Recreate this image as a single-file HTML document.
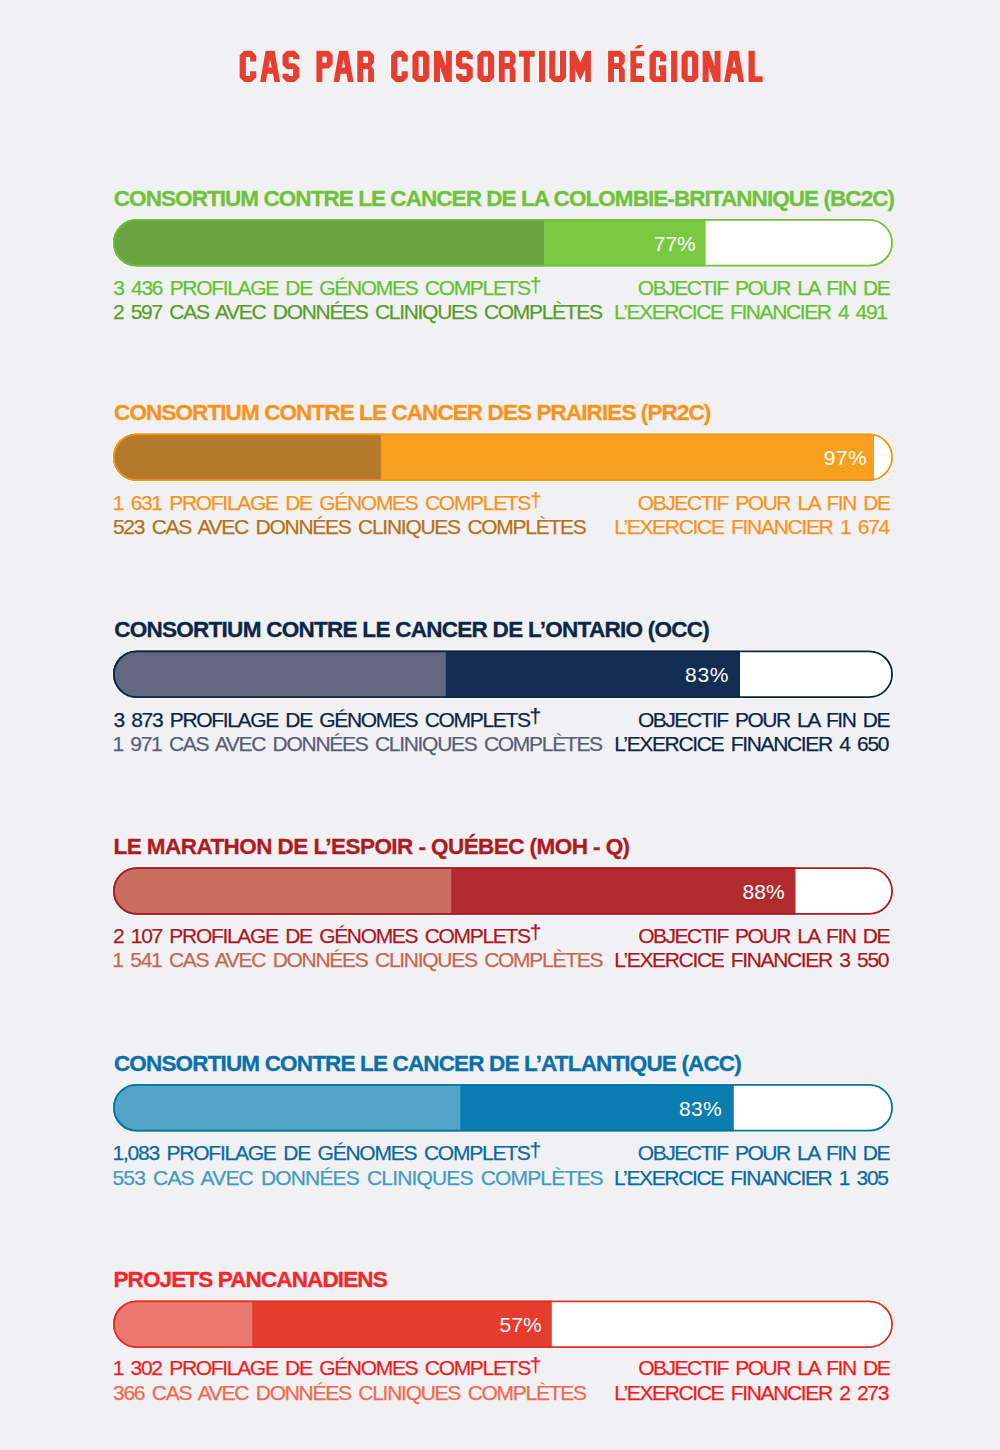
<!DOCTYPE html>
<html><head><meta charset="utf-8">
<style>
html,body{margin:0;padding:0;}
body{width:1000px;height:1450px;background:#f1f1f3;position:relative;overflow:hidden;font-family:"Liberation Sans",sans-serif;}
.t{position:absolute;white-space:nowrap;line-height:24px;text-shadow:0 0 1.5px rgba(255,255,255,0.9);}
.h{font-weight:bold;font-size:22.50px;letter-spacing:-0.50px;-webkit-text-stroke:0.35px currentColor;}
.b{font-size:21.00px;letter-spacing:-0.60px;word-spacing:3px;-webkit-text-stroke:0.25px currentColor;}
.r{text-align:right;}
.dg{position:relative;top:-3.2px;}
.p{font-size:21.00px;color:#fff;text-shadow:none;}
.title{position:absolute;white-space:nowrap;font-weight:bold;color:#e63c2f;transform-origin:0 0;}
svg{position:absolute;left:0;top:0;}
</style></head>
<body>
<svg id="tsvg" width="1000" height="100" viewBox="0 0 1000 100" style="position:absolute;left:0;top:0" role="img" aria-label="CAS PAR CONSORTIUM RÉGIONAL"><title>CAS PAR CONSORTIUM RÉGIONAL</title><g fill="#e63e30" fill-rule="evenodd" stroke="#fff" stroke-opacity="0.7" stroke-width="1.6" stroke-linejoin="miter" paint-order="stroke"><path transform="translate(239.60 50.85)" d="M4.45,0 H12.05 L16.65,4.6 V10.6 H10.5 V6.15 H6.3 V25.05 H10.5 V20.3 H16.65 V26.6 L12.05,31.2 H4.45 L0,26.75 V4.45 Z"/><path transform="translate(260.10 50.85)" d="M5.5,0 H14.5 L20,31.2 H14.3 L12.85,23 H7.15 L5.7,31.2 H0 Z M10,8.8 L11.55,16.7 H8.45 Z"/><path transform="translate(282.50 50.85)" d="M0,4.2 L4.2,0 H12.19 L16.78,4.46 V8.39 H10.62 V6.16 H6.29 V12.32 H12.19 L16.78,16.78 V26.74 L12.19,31.2 H4.2 L0,27.0 V22.81 H6.29 V25.1 H10.62 V18.48 H4.2 L0,14.16 Z"/><path transform="translate(316.40 50.85)" d="M0,0 H12.3 L16.3,4 V13.6 L12.3,17.6 H6.0 V31.2 H0 Z M6.0,5.9 H10.3 V11.9 H6.0 Z"/><path transform="translate(333.56 50.85)" d="M5.5,0 H14.5 L20,31.2 H14.3 L12.85,23 H7.15 L5.7,31.2 H0 Z M10,8.8 L11.55,16.7 H8.45 Z"/><path transform="translate(357.30 50.85)" d="M0,0 H12.5 L16.7,4.2 V11.6 L13.9,15.1 L16.7,18.6 V31.2 H10.8 V18.1 H5.9 V31.2 H0 Z M5.9,6.0 H10.8 V12.1 H5.9 Z"/><path transform="translate(391.10 50.85)" d="M4.45,0 H12.05 L16.65,4.6 V10.6 H10.5 V6.15 H6.3 V25.05 H10.5 V20.3 H16.65 V26.6 L12.05,31.2 H4.45 L0,26.75 V4.45 Z"/><path transform="translate(412.40 50.85)" d="M4.4,0 H12.4 L16.8,4.4 V26.8 L12.4,31.2 H4.4 L0,26.8 V4.4 Z M6.25,5.95 H10.55 V25.15 H6.25 Z"/><path transform="translate(433.90 50.85)" d="M0,0 H6.5 L12.0,15.0 V0 H17.95 V31.2 H11.3 L6.1,16.4 V31.2 H0 Z"/><path transform="translate(456.00 50.85)" d="M0,4.2 L4.2,0 H12.19 L16.78,4.46 V8.39 H10.62 V6.16 H6.29 V12.32 H12.19 L16.78,16.78 V26.74 L12.19,31.2 H4.2 L0,27.0 V22.81 H6.29 V25.1 H10.62 V18.48 H4.2 L0,14.16 Z"/><path transform="translate(477.36 50.85)" d="M4.4,0 H12.4 L16.8,4.4 V26.8 L12.4,31.2 H4.4 L0,26.8 V4.4 Z M6.25,5.95 H10.55 V25.15 H6.25 Z"/><path transform="translate(498.86 50.85)" d="M0,0 H12.5 L16.7,4.2 V11.6 L13.9,15.1 L16.7,18.6 V31.2 H10.8 V18.1 H5.9 V31.2 H0 Z M5.9,6.0 H10.8 V12.1 H5.9 Z"/><path transform="translate(518.84 50.85)" d="M0,0 H15.9 V5.9 H11.0 V31.2 H4.85 V5.9 H0 Z"/><path transform="translate(539.00 50.85)" d="M0,0 H6.1 V31.2 H0 Z"/><path transform="translate(549.20 50.85)" d="M0,0 H6.0 V25.2 H10.8 V0 H16.8 V26.8 L12.4,31.2 H4.4 L0,26.8 Z"/><path transform="translate(569.60 50.85)" d="M0,0 H5.4 L10.65,11.7 L15.9,0 H21.3 V31.2 H15.6 V18.9 L10.65,29.7 L5.7,18.9 V31.2 H0 Z"/><path transform="translate(608.10 50.85)" d="M0,0 H12.5 L16.7,4.2 V11.6 L13.9,15.1 L16.7,18.6 V31.2 H10.8 V18.1 H5.9 V31.2 H0 Z M5.9,6.0 H10.8 V12.1 H5.9 Z"/><path transform="translate(630.40 50.85)" d="M0,0 H13.9 V5.5 H5.7 V12.3 H11.7 V17.6 H5.7 V25.1 H13.9 V31.2 H0 Z M3.7,-2.4 L8.8,-2.4 L13.0,-5.9 L7.7,-5.9 Z"/><path transform="translate(649.50 50.85)" d="M4.4,0 H11.7 L16.7,4.4 V10.6 H10.6 V6.2 H6.4 V25.3 H10.6 V19.4 H9.2 V14.5 H16.7 V31.2 H3.5 L0,27.7 V4.4 Z"/><path transform="translate(671.10 50.85)" d="M0,0 H6.1 V31.2 H0 Z"/><path transform="translate(681.50 50.85)" d="M4.4,0 H12.4 L16.8,4.4 V26.8 L12.4,31.2 H4.4 L0,26.8 V4.4 Z M6.25,5.95 H10.55 V25.15 H6.25 Z"/><path transform="translate(702.60 50.85)" d="M0,0 H6.5 L12.0,15.0 V0 H17.95 V31.2 H11.3 L6.1,16.4 V31.2 H0 Z"/><path transform="translate(724.10 50.85)" d="M5.5,0 H14.5 L20,31.2 H14.3 L12.85,23 H7.15 L5.7,31.2 H0 Z M10,8.8 L11.55,16.7 H8.45 Z"/><path transform="translate(748.50 50.85)" d="M0,0 H6.3 V25.3 H14.2 V31.2 H0 Z"/></g></svg>
<svg width="1000" height="1450" viewBox="0 0 1000 1450"><defs>
<clipPath id="k0"><rect x="113.00" y="219.00" width="780.00" height="47.60" rx="23.80"/></clipPath>
<clipPath id="k1"><rect x="113.00" y="433.40" width="780.00" height="47.60" rx="23.80"/></clipPath>
<clipPath id="k2"><rect x="113.00" y="650.40" width="780.00" height="47.60" rx="23.80"/></clipPath>
<clipPath id="k3"><rect x="113.00" y="867.20" width="780.00" height="47.60" rx="23.80"/></clipPath>
<clipPath id="k4"><rect x="113.00" y="1084.00" width="780.00" height="47.60" rx="23.80"/></clipPath>
<clipPath id="k5"><rect x="113.00" y="1300.40" width="780.00" height="47.60" rx="23.80"/></clipPath>
</defs>
<rect x="112.50" y="218.50" width="781.00" height="48.60" rx="24.30" fill="none" stroke="#fff" stroke-opacity="0.85" stroke-width="1.2"/>
<g clip-path="url(#k0)">
<rect x="113.00" y="219.00" width="780.00" height="47.60" fill="#fff"/>
<rect x="113.00" y="219.00" width="592.60" height="47.60" fill="#7ac943"/>
<rect x="113.00" y="219.00" width="431.00" height="47.60" fill="#69a342"/>
</g>
<rect x="113.90" y="219.90" width="778.20" height="45.80" rx="22.90" fill="none" stroke="#6cc234" stroke-width="1.80"/>
<rect x="112.50" y="432.90" width="781.00" height="48.60" rx="24.30" fill="none" stroke="#fff" stroke-opacity="0.85" stroke-width="1.2"/>
<g clip-path="url(#k1)">
<rect x="113.00" y="433.40" width="780.00" height="47.60" fill="#fff"/>
<rect x="113.00" y="433.40" width="761.00" height="47.60" fill="#f7a020"/>
<rect x="113.00" y="433.40" width="267.80" height="47.60" fill="#b5792b"/>
</g>
<rect x="113.90" y="434.30" width="778.20" height="45.80" rx="22.90" fill="none" stroke="#f6930f" stroke-width="1.80"/>
<rect x="112.50" y="649.90" width="781.00" height="48.60" rx="24.30" fill="none" stroke="#fff" stroke-opacity="0.85" stroke-width="1.2"/>
<g clip-path="url(#k2)">
<rect x="113.00" y="650.40" width="780.00" height="47.60" fill="#fff"/>
<rect x="113.00" y="650.40" width="627.00" height="47.60" fill="#122e53"/>
<rect x="113.00" y="650.40" width="332.80" height="47.60" fill="#636780"/>
</g>
<rect x="113.90" y="651.30" width="778.20" height="45.80" rx="22.90" fill="none" stroke="#0c2448" stroke-width="1.80"/>
<rect x="112.50" y="866.70" width="781.00" height="48.60" rx="24.30" fill="none" stroke="#fff" stroke-opacity="0.85" stroke-width="1.2"/>
<g clip-path="url(#k3)">
<rect x="113.00" y="867.20" width="780.00" height="47.60" fill="#fff"/>
<rect x="113.00" y="867.20" width="682.50" height="47.60" fill="#b12b2f"/>
<rect x="113.00" y="867.20" width="338.20" height="47.60" fill="#c76e5f"/>
</g>
<rect x="113.90" y="868.10" width="778.20" height="45.80" rx="22.90" fill="none" stroke="#ab1a20" stroke-width="1.80"/>
<rect x="112.50" y="1083.50" width="781.00" height="48.60" rx="24.30" fill="none" stroke="#fff" stroke-opacity="0.85" stroke-width="1.2"/>
<g clip-path="url(#k4)">
<rect x="113.00" y="1084.00" width="780.00" height="47.60" fill="#fff"/>
<rect x="113.00" y="1084.00" width="620.80" height="47.60" fill="#0b7db0"/>
<rect x="113.00" y="1084.00" width="347.30" height="47.60" fill="#53a5c7"/>
</g>
<rect x="113.90" y="1084.90" width="778.20" height="45.80" rx="22.90" fill="none" stroke="#0673a8" stroke-width="1.80"/>
<rect x="112.50" y="1299.90" width="781.00" height="48.60" rx="24.30" fill="none" stroke="#fff" stroke-opacity="0.85" stroke-width="1.2"/>
<g clip-path="url(#k5)">
<rect x="113.00" y="1300.40" width="780.00" height="47.60" fill="#fff"/>
<rect x="113.00" y="1300.40" width="438.80" height="47.60" fill="#e63c30"/>
<rect x="113.00" y="1300.40" width="139.30" height="47.60" fill="#ec7970"/>
</g>
<rect x="113.90" y="1301.30" width="778.20" height="45.80" rx="22.90" fill="none" stroke="#e32e21" stroke-width="1.80"/>
</svg>
<div class="t h" id="h1" style="left:113.82px;top:186.88px;color:#70c13c;letter-spacing:-0.938px">CONSORTIUM CONTRE LE CANCER DE LA COLOMBIE-BRITANNIQUE (BC2C)</div>
<div class="t b" id="a1" style="left:113.25px;top:275.77px;color:#63c130;letter-spacing:-1.333px">3 436 PROFILAGE DE GÉNOMES COMPLETS<span class="dg">†</span></div>
<div class="t b" id="b1" style="left:112.89px;top:300.37px;color:#559d2a;letter-spacing:-1.315px">2 597 CAS AVEC DONNÉES CLINIQUES COMPLÈTES</div>
<div class="t b" id="c1" style="left:637.83px;top:275.77px;color:#63c130;letter-spacing:-1.461px">OBJECTIF POUR LA FIN DE</div>
<div class="t b" id="d1" style="left:614.07px;top:300.37px;color:#63c130;letter-spacing:-1.406px">L’EXERCICE FINANCIER 4 491</div>
<div class="t p" id="p1" style="left:653.82px;top:231.77px;color:#fff;letter-spacing:-0.082px">77%</div>
<div class="t h" id="h2" style="left:114.10px;top:400.88px;color:#f7941d;letter-spacing:-0.903px">CONSORTIUM CONTRE LE CANCER DES PRAIRIES (PR2C)</div>
<div class="t b" id="a2" style="left:112.74px;top:490.87px;color:#f7921c;letter-spacing:-1.309px">1 631 PROFILAGE DE GÉNOMES COMPLETS<span class="dg">†</span></div>
<div class="t b" id="b2" style="left:112.88px;top:515.17px;color:#b47019;letter-spacing:-1.271px">523 CAS AVEC DONNÉES CLINIQUES COMPLÈTES</div>
<div class="t b" id="c2" style="left:637.87px;top:490.87px;color:#f7921c;letter-spacing:-1.446px">OBJECTIF POUR LA FIN DE</div>
<div class="t b" id="d2" style="left:614.19px;top:515.17px;color:#f7921c;letter-spacing:-1.316px">L’EXERCICE FINANCIER 1 674</div>
<div class="t p" id="p2" style="left:823.85px;top:446.17px;color:#fff;letter-spacing:0.353px">97%</div>
<div class="t h" id="h3" style="left:114.18px;top:617.88px;color:#0c2549;letter-spacing:-0.725px">CONSORTIUM CONTRE LE CANCER DE L’ONTARIO (OCC)</div>
<div class="t b" id="a3" style="left:113.39px;top:707.57px;color:#0c2547;letter-spacing:-1.341px">3 873 PROFILAGE DE GÉNOMES COMPLETS<span class="dg">†</span></div>
<div class="t b" id="b3" style="left:112.39px;top:731.87px;color:#565d7c;letter-spacing:-1.298px">1 971 CAS AVEC DONNÉES CLINIQUES COMPLÈTES</div>
<div class="t b" id="c3" style="left:637.98px;top:707.57px;color:#0c2547;letter-spacing:-1.482px">OBJECTIF POUR LA FIN DE</div>
<div class="t b" id="d3" style="left:614.17px;top:731.87px;color:#0c2547;letter-spacing:-1.348px">L’EXERCICE FINANCIER 4 650</div>
<div class="t p" id="p3" style="left:685.04px;top:663.17px;color:#fff;letter-spacing:0.707px">83%</div>
<div class="t h" id="h4" style="left:113.53px;top:834.68px;color:#ae1a24;letter-spacing:-0.561px">LE MARATHON DE L’ESPOIR - QUÉBEC (MOH - Q)</div>
<div class="t b" id="a4" style="left:112.94px;top:923.57px;color:#ac1620;letter-spacing:-1.326px">2 107 PROFILAGE DE GÉNOMES COMPLETS<span class="dg">†</span></div>
<div class="t b" id="b4" style="left:112.35px;top:947.97px;color:#c76554;letter-spacing:-1.290px">1 541 CAS AVEC DONNÉES CLINIQUES COMPLÈTES</div>
<div class="t b" id="c4" style="left:638.15px;top:923.57px;color:#ac1620;letter-spacing:-1.487px">OBJECTIF POUR LA FIN DE</div>
<div class="t b" id="d4" style="left:614.33px;top:947.97px;color:#ac1620;letter-spacing:-1.353px">L’EXERCICE FINANCIER 3 550</div>
<div class="t p" id="p4" style="left:742.42px;top:879.97px;color:#fff;letter-spacing:0.098px">88%</div>
<div class="t h" id="h5" style="left:113.96px;top:1051.68px;color:#0a70ab;letter-spacing:-0.844px">CONSORTIUM CONTRE LE CANCER DE L’ATLANTIQUE (ACC)</div>
<div class="t b" id="a5" style="left:112.52px;top:1141.17px;color:#0868a4;letter-spacing:-1.231px">1,083 PROFILAGE DE GÉNOMES COMPLETS<span class="dg">†</span></div>
<div class="t b" id="b5" style="left:112.50px;top:1166.07px;color:#4299c4;letter-spacing:-0.830px">553 CAS AVEC DONNÉES CLINIQUES COMPLÈTES</div>
<div class="t b" id="c5" style="left:637.81px;top:1141.17px;color:#0868a4;letter-spacing:-1.473px">OBJECTIF POUR LA FIN DE</div>
<div class="t b" id="d5" style="left:613.91px;top:1166.07px;color:#0868a4;letter-spacing:-1.356px">L’EXERCICE FINANCIER 1 305</div>
<div class="t p" id="p5" style="left:679.02px;top:1096.77px;color:#fff;letter-spacing:0.353px">83%</div>
<div class="t h" id="h6" style="left:113.42px;top:1268.28px;color:#f4262a;letter-spacing:-0.873px">PROJETS PANCANADIENS</div>
<div class="t b" id="a6" style="left:112.72px;top:1356.17px;color:#f21a1d;letter-spacing:-1.315px">1 302 PROFILAGE DE GÉNOMES COMPLETS<span class="dg">†</span></div>
<div class="t b" id="b6" style="left:113.05px;top:1381.07px;color:#f56652;letter-spacing:-1.268px">366 CAS AVEC DONNÉES CLINIQUES COMPLÈTES</div>
<div class="t b" id="c6" style="left:638.19px;top:1356.17px;color:#f21a1d;letter-spacing:-1.478px">OBJECTIF POUR LA FIN DE</div>
<div class="t b" id="d6" style="left:614.26px;top:1381.07px;color:#f21a1d;letter-spacing:-1.354px">L’EXERCICE FINANCIER 2 273</div>
<div class="t p" id="p6" style="left:499.58px;top:1313.17px;color:#fff;letter-spacing:0.085px">57%</div>
</body></html>
